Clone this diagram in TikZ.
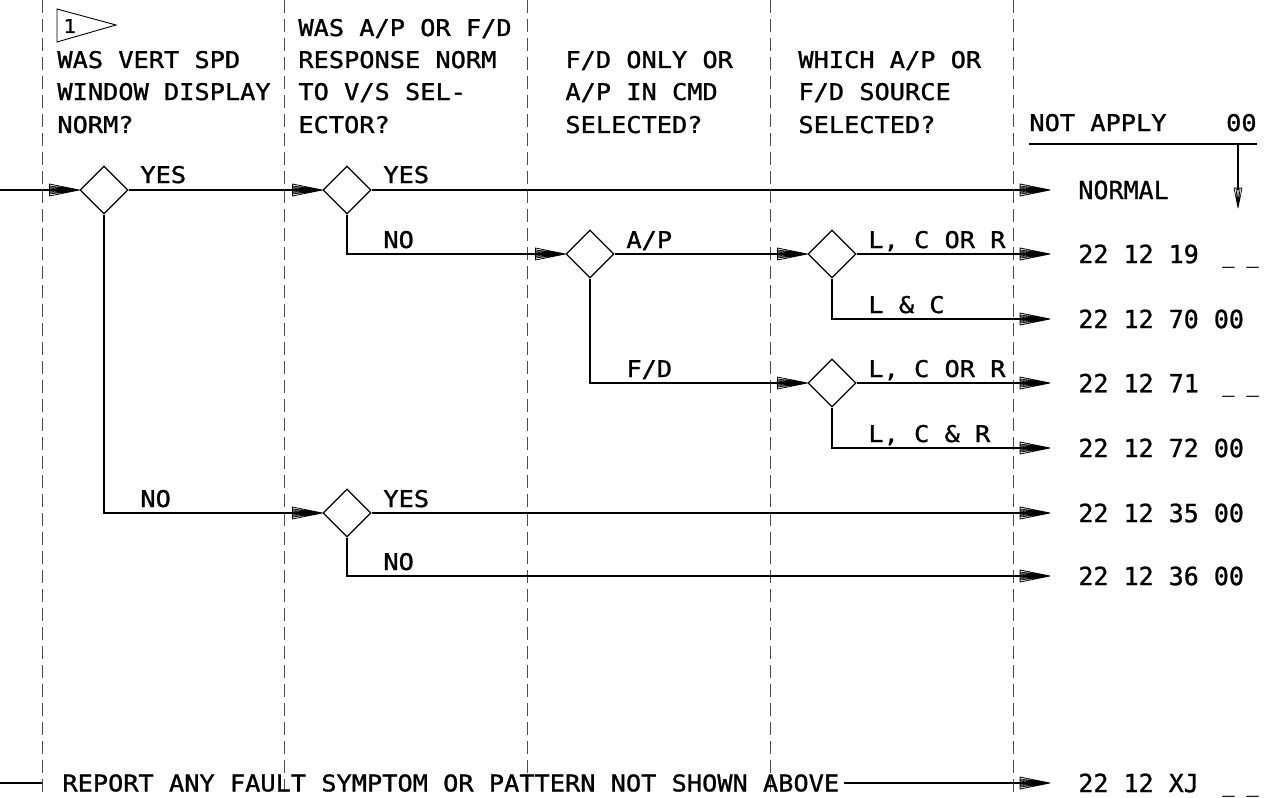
\documentclass[tikz,border=0pt]{standalone}
\usepackage{fontspec}
\newfontfamily\hdr{DejaVu Sans Mono}[FakeStretch=1.1,FakeBold=1.2]
\newfontfamily\outf{DejaVu Sans Mono}[FakeBold=1]
\usetikzlibrary{shapes.geometric,arrows.meta}

\pgfdeclarearrow{
  name=Fan,
  setup code={
    \pgfarrowssettipend{0pt}
    \pgfarrowssetlineend{-13pt}
    \pgfarrowssetbackend{-15pt}
    \pgfarrowssetvisualbackend{-15pt}
    \pgfarrowshullpoint{0pt}{0pt}
    \pgfarrowshullpoint{-15pt}{3pt}
    \pgfarrowshullpoint{-15pt}{-3pt}
  },
  drawing code={
    \pgfsetdash{}{0pt}
    \pgfsetlinewidth{0.4pt}
    \pgfsetroundjoin
    \pgfpathmoveto{\pgfpoint{-15pt}{3pt}}
    \pgfpathlineto{\pgfpointorigin}
    \pgfpathlineto{\pgfpoint{-15pt}{-3pt}}
    \pgfpathclose
    \pgfpathmoveto{\pgfpointorigin}\pgfpathlineto{\pgfpoint{-15pt}{2pt}}
    \pgfpathmoveto{\pgfpointorigin}\pgfpathlineto{\pgfpoint{-15pt}{1.2pt}}
    \pgfpathmoveto{\pgfpointorigin}\pgfpathlineto{\pgfpoint{-15pt}{0.5pt}}
    \pgfpathmoveto{\pgfpointorigin}\pgfpathlineto{\pgfpoint{-15pt}{0pt}}
    \pgfpathmoveto{\pgfpointorigin}\pgfpathlineto{\pgfpoint{-15pt}{-0.5pt}}
    \pgfpathmoveto{\pgfpointorigin}\pgfpathlineto{\pgfpoint{-15pt}{-1.2pt}}
    \pgfpathmoveto{\pgfpointorigin}\pgfpathlineto{\pgfpoint{-15pt}{-2pt}}
    \pgfusepathqstroke
  }
}

\pgfdeclarearrow{
  name=FanS,
  setup code={
    \pgfarrowssettipend{0pt}
    \pgfarrowssetlineend{-9pt}
    \pgfarrowssetbackend{-10pt}
    \pgfarrowssetvisualbackend{-10pt}
    \pgfarrowshullpoint{0pt}{0pt}
    \pgfarrowshullpoint{-10pt}{2pt}
    \pgfarrowshullpoint{-10pt}{-2pt}
  },
  drawing code={
    \pgfsetdash{}{0pt}
    \pgfsetlinewidth{0.35pt}
    \pgfsetroundjoin
    \pgfpathmoveto{\pgfpoint{-10pt}{2pt}}
    \pgfpathlineto{\pgfpointorigin}
    \pgfpathlineto{\pgfpoint{-10pt}{-2pt}}
    \pgfpathclose
    \pgfpathmoveto{\pgfpointorigin}\pgfpathlineto{\pgfpoint{-10pt}{1pt}}
    \pgfpathmoveto{\pgfpointorigin}\pgfpathlineto{\pgfpoint{-10pt}{0pt}}
    \pgfpathmoveto{\pgfpointorigin}\pgfpathlineto{\pgfpoint{-10pt}{-1pt}}
    \pgfusepathqstroke
  }
}

\begin{document}
\begin{tikzpicture}[x=0.5pt,y=-0.5pt,
  colsep/.style={black!70,line width=0.5pt,dash pattern=on 6.5pt off 3pt},
  conn/.style={line width=0.6pt},
  arr/.style={conn,-Fan},
  dmd/.style={diamond,draw,line width=0.6pt,aspect=1,minimum width=24pt,minimum height=24pt,inner sep=0pt},
  hd/.style={anchor=base west,inner sep=0pt,font=\hdr\fontsize{11.5pt}{14pt}\selectfont},
  outtxt/.style={anchor=west,inner sep=0pt,font=\outf\fontsize{12.5pt}{15pt}\selectfont},
  blank/.style={anchor=base west,inner sep=0pt,font=\outf\fontsize{10pt}{12pt}\selectfont}
]
\useasboundingbox (0,0) rectangle (1267,797);

% column separators
\foreach \cx in {42,284,527,770,1013}
  \draw[colsep] (\cx,0) -- (\cx,797);

% flag
\draw[line width=0.45pt] (57,9) -- (57,42) -- (116,25) -- cycle;
\node[anchor=base west,inner sep=0pt,font=\hdr\fontsize{9.5pt}{11pt}\selectfont] (flag) at (63,33) {1};

% headers
\node[hd] (h1a) at (57,68) {WAS VERT SPD};
\node[hd] (h1b) at (57,100) {WINDOW DISPLAY};
\node[hd] (h1c) at (57,133) {NORM?};

\node[hd] (h2a) at (298,36) {WAS A/P OR F/D};
\node[hd] (h2b) at (298,68) {RESPONSE NORM};
\node[hd] (h2c) at (298,100) {TO V/S SEL-};
\node[hd] (h2d) at (298,133) {ECTOR?};

\node[hd] (h3a) at (565,68) {F/D ONLY OR};
\node[hd] (h3b) at (565,100) {A/P IN CMD};
\node[hd] (h3c) at (565,133) {SELECTED?};

\node[hd] (h4a) at (798,68) {WHICH A/P OR};
\node[hd] (h4b) at (798,100) {F/D SOURCE};
\node[hd] (h4c) at (798,133) {SELECTED?};

\node[hd] (na) at (1029,131) {NOT APPLY};
\node[hd,anchor=base east] (nz) at (1257,131) {00};
\draw[conn] (1029,144) -- (1257,144);
\coordinate (dna) at (1238,144);
\coordinate (dnb) at (1238,208);
\draw[conn,-FanS] (dna) -- (dnb);

% diamonds
\node[dmd] (d1) at (104,190) {};
\node[dmd] (d2) at (347,190) {};
\node[dmd] (d3) at (590,254) {};
\node[dmd] (d4) at (832,254) {};
\node[dmd] (d6) at (832,383) {};
\node[dmd] (d5) at (347,513) {};

% outputs
\node[outtxt] (onorm) at (1078,190) {NORMAL};
\node[outtxt] (o19) at (1078,254) {22 12 19};
\node[outtxt] (o70) at (1078,319) {22 12 70 00};
\node[outtxt] (o71) at (1078,383) {22 12 71};
\node[outtxt] (o72) at (1078,448) {22 12 72 00};
\node[outtxt] (o35) at (1078,513) {22 12 35 00};
\node[outtxt] (o36) at (1078,576) {22 12 36 00};
\node[outtxt] (oxj) at (1078,783) {22 12 XJ};
\node[blank] (b19) at (1222,263) {\_ \_};
\node[blank] (b71) at (1222,392) {\_ \_};
\node[blank] (bxj) at (1222,792) {\_ \_};

% connectors
\coordinate (start) at (0,190);
\draw[arr] (start) -- (d1.west);
\draw[arr] (d1.east) -- (d2.west);
\draw[arr] (d2.east) -- ([xshift=-14pt]onorm.west);
\draw[arr] (d2.south) |- (d3.west);
\draw[arr] (d3.east) -- (d4.west);
\draw[arr] (d3.south) |- (d6.west);
\draw[arr] (d4.east) -- ([xshift=-14pt]o19.west);
\draw[arr] (d4.south) |- ([xshift=-14pt]o70.west);
\draw[arr] (d6.east) -- ([xshift=-14pt]o71.west);
\draw[arr] (d6.south) |- ([xshift=-14pt]o72.west);
\draw[arr] (d1.south) |- (d5.west);
\draw[arr] (d5.east) -- ([xshift=-14pt]o35.west);
\draw[arr] (d5.south) |- ([xshift=-14pt]o36.west);

% branch labels
\node[hd] (l1y) at (140,183) {YES};
\node[hd] (l1n) at (140,507) {NO};
\node[hd] (l2y) at (383,183) {YES};
\node[hd] (l2n) at (383,248) {NO};
\node[hd] (l3a) at (626,248) {A/P};
\node[hd] (l3f) at (626,377) {F/D};
\node[hd] (l4a) at (868,248) {L, C OR R};
\node[hd] (l4b) at (868,313) {L \& C};
\node[hd] (l6a) at (868,377) {L, C OR R};
\node[hd] (l6b) at (868,442) {L, C \& R};
\node[hd] (l5y) at (383,507) {YES};
\node[hd] (l5n) at (383,570) {NO};

% bottom row
\coordinate (rs) at (0,783);
\node[anchor=west,inner sep=0pt,font=\hdr\fontsize{11.5pt}{14pt}\selectfont] (rep) at (62,783) {REPORT ANY FAULT SYMPTOM OR PATTERN NOT SHOWN ABOVE};
\draw[conn] (rs) -- ([xshift=-10pt]rep.west);
\draw[arr] ([xshift=2pt]rep.east) -- ([xshift=-14pt]oxj.west);
\end{tikzpicture}
\end{document}
